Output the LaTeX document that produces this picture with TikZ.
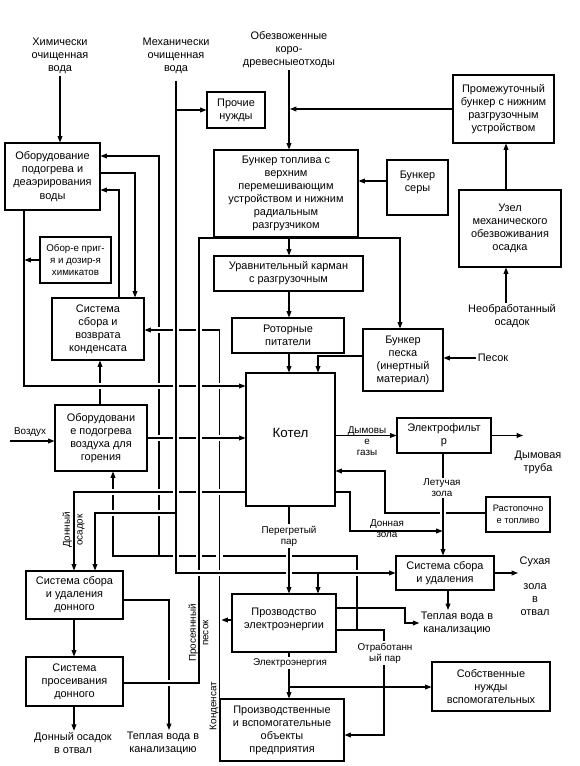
\documentclass[tikz,border=0pt]{standalone}
\usepackage{fontspec}
\setmainfont{Liberation Sans}
\usetikzlibrary{arrows.meta, backgrounds}

\begin{document}
\begin{tikzpicture}[x=0.75pt, y=-0.75pt, >={Triangle[length=4.8pt,width=3.6pt]}]
    \tikzset{blk/.style={draw, line width=0.8pt, fill=white, align=center, inner sep=1pt,
                         font=\fontsize{8.2}{9.8}\selectfont},
             lbl/.style={align=center, inner sep=1pt, font=\fontsize{8.2}{9.8}\selectfont},
             sml/.style={align=center, inner sep=1pt, font=\fontsize{7.4}{8.4}\selectfont},
             ln/.style={line width=0.8pt},
             arr/.style={ln, ->},
             over/.style={preaction={draw=white, -, line width=5pt, shorten <=2.5pt, shorten >=2.5pt}}}
    \useasboundingbox (0,0) rectangle (579,766);

    \node[blk, minimum width=71.25pt, minimum height=50.25pt] (water) at (52.5,176.5) {Оборудование\\подогрева и\\деаэрирования\\воды};
    \node[blk, minimum width=43.5pt, minimum height=27pt] (other) at (236,110) {Прочие\\нужды};
    \node[blk, minimum width=108pt, minimum height=65.25pt] (fuel) at (286,193.5) {Бункер топлива с\\верхним\\перемешивающим\\устройством и нижним\\радиальным\\разгрузчиком};
    \node[blk, minimum width=45.75pt, minimum height=41.25pt] (sulfur) at (417.5,187.5) {Бункер\\серы\\~};
    \node[blk, minimum width=75.75pt, minimum height=51pt] (inter) at (503.5,109) {Промежуточный\\бункер с нижним\\разгрузочным\\устройством};
    \node[blk, minimum width=76.5pt, minimum height=57.75pt] (dewater) at (510,228.5) {Узел\\механического\\обезвоживания\\осадка};
    \node[blk, minimum width=53.25pt, minimum height=34.5pt, font=\fontsize{7.3}{9.2}\selectfont] (chem) at (75.5,260) {Обор-е приг-\\я и дозир-я\\химикатов};
    \node[blk, minimum width=69pt, minimum height=46.5pt] (cond) at (98,329) {Система\\сбора и\\возврата\\конденсата};
    \node[blk, minimum width=111.75pt, minimum height=26.25pt] (pocket) at (288.5,273.5) {Уравнительный карман\\с разгрузочным};
    \node[blk, minimum width=84pt, minimum height=26.25pt] (rotor) at (288,335.5) {Роторные\\питатели};
    \node[blk, minimum width=60pt, minimum height=46.5pt] (sand) at (403,360) {Бункер\\песка\\(инертный\\материал)};
    \node[blk, minimum width=66.75pt, minimum height=99.75pt, font=\fontsize{10}{12}\selectfont] (boiler) at (290.5,439.5) {Котел\\[-2pt]~};
    \node[blk, minimum width=69pt, minimum height=49.5pt] (air) at (101,438) {Оборудовани\\е подогрева\\воздуха для\\горения};
    \node[blk, minimum width=70.5pt, minimum height=26.25pt] (esp) at (444,435.5) {Электрофильт\\р};
    \node[blk, minimum width=48pt, minimum height=26.25pt, font=\fontsize{7}{8.6}\selectfont] (ignition) at (518,514.5) {Растопочно\\е топливо};
    \node[blk, minimum width=73.5pt, minimum height=25.5pt] (ash) at (445,573) {Система сбора\\и удаления};
    \node[blk, minimum width=72.75pt, minimum height=36pt] (bottom) at (74.5,595) {Система сбора\\и удаления\\донного};
    \node[blk, minimum width=72.75pt, minimum height=36.75pt] (sieve) at (74.5,681.5) {Система\\просеивания\\донного};
    \node[blk, minimum width=78pt, minimum height=43.5pt] (power) at (284,623) {Прозводство\\электроэнергии\\[-2.3pt]~};
    \node[blk, minimum width=93pt, minimum height=46.5pt] (plant) at (282,730) {Производственные\\и вспомогательные\\объекты\\предприятия};
    \node[blk, minimum width=88.5pt, minimum height=36.75pt] (ownneeds) at (491,686.5) {Собственные\\нужды\\вспомогательных};

    \node[lbl] (chemw) at (60,56) {Химически\\очищенная\\вода};
    \node[lbl] (mechw) at (176,56) {Механически\\очищенная\\вода};
    \node[lbl] (wood) at (289,50) {Обезвоженные\\коро-\\древесныеотходы};
    \node[lbl] (sludge) at (512,316) {Необработанный\\осадок};
    \node[lbl] (sandin) at (493,358) {Песок};
    \node[sml] (airin) at (30,432) {Воздух};
    \node[sml] (fluegas) at (367,441) {Дымовы\\е\\газы};
    \node[lbl] (stack) at (538,462) {Дымовая\\труба};
    \node[sml, fill=white] (flyash) at (442,488) {Летучая\\зола};
    \node[sml] (botash) at (387,529) {Донная\\зола};
    \node[sml, fill=white] (steam) at (289,536) {Перегретый\\пар};
    \node[lbl, anchor=north] (dryash) at (535,555) {Сухая\\[9pt]зола\\в\\отвал};
    \node[lbl] (warm2) at (457,623) {Теплая вода в\\канализацию};
    \node[sml, fill=white] (spent) at (385,653) {Отработанн\\ый пар};
    \node[sml, fill=white] (elec) at (290,663) {Электроэнергия};
    \node[lbl] (botout) at (73,743) {Донный осадок\\в отвал};
    \node[lbl] (warm1) at (163,743) {Теплая вода в\\канализацию};
    \node[sml, rotate=90, font=\fontsize{7.4}{9.5}\selectfont] (botsed) at (73.5,530) {Донный\\осадок};
    \node[sml, rotate=90, font=\fontsize{7.4}{9.5}\selectfont] (sifted) at (198.5,633) {Просеянный\\песок};
    \node[sml, rotate=90] (condlbl) at (214,706) {Конденсат};

    \coordinate (airsrc) at (10,441);
    \coordinate (stackin) at (523,435.5);
    \coordinate (dryin) at (518,573);
    \coordinate (ashjoin) at (442.6,531);
    \coordinate (elecsplit) at (289,687);
    \coordinate (woodjoin) at (290,109);
    \coordinate (condjoin) at (221.5,620);
    \coordinate (feedjoin) at (24.5,260);

    \begin{scope}[on background layer]
      % steam
      \draw[arr] (power.east |- 0,630) -| (357,556) -| (air.south -| 113,0);
      \draw[arr] (159,556) |- (water.east |- 0,156);
      \draw[arr] (357,630) -- (384,630) |- (plant.east |- 0,735);
      \draw[arr] (bottom.east |- 0,600) -| (warm1.north -| 169,0);
      \draw[arr] (air.north -| 100,0) -- (cond.south -| 100,0);
      % condensate
      \draw[arr, over] (plant.west |- 0,733) |- (cond.east |- 0,330);
      \draw[arr] (power.west |- 0,620) -- (condjoin);
      % into the boiler
      \draw[arr, over] (water.south -| 24,0) |- (boiler.west |- 0,386);
      \draw[arr] (chem.west) -- (feedjoin);
      \draw[arr, over] (air.east) -- (boiler.west |- air.east);
      \draw[arr, over] (boiler.west |- 0,492) -| (bottom.north -| 74,0);
      \draw[arr] (ignition.west |- 0,513) -| (385,471) -- (boiler.east |- 0,471);
      % sand and water
      \draw[arr, over] (sieve.east |- 0,683) -| (199,238) -| (sand.north -| 400,0);
      \draw[arr, over] ([yshift=-4pt]mechw.south) |- (ash.west);
      \draw[arr] (176,110) -- (other.west);
      \draw[arr] (318,573) -- (power.north -| 318,0);
      \draw[arr, over] (176,513) -| (bottom.north -| 95,0);
      % ash
      \draw[arr, over] (esp.south -| 443,0) -- (ash.north -| 443,0);
      \draw[arr] (boiler.east |- 0,492) -| (350,531) -- (ashjoin);
      \draw[arr, over] (boiler.south -| 289,0) -- (power.north -| 289,0);
      % fuel
      \draw[arr] (wood.south -| 289,0) -- (fuel.north -| 289,0);
      \draw[arr] (inter.west) -- (woodjoin);
      \draw[arr] (sulfur.west |- 0,181) -- (fuel.east |- 0,181);
      \foreach \a/\b in {fuel/pocket, pocket/rotor, rotor/boiler}
        \draw[arr] (\a.south -| 289,0) -- (\b.north -| 289,0);
      \draw[arr] (sand.west |- 0,356) -| (boiler.north -| 318,0);
      \draw[arr] (sandin.west) -- (sand.east |- sandin.west);
      \draw[arr] (dewater.north -| 506,0) -- (inter.south -| 506,0);
      \draw[arr] (sludge.north -| 506,0) -- (dewater.south -| 506,0);
      % gases, products
      \draw[arr] (boiler.east |- esp.west) -- (esp.west);
      \draw[arr] (esp.east) -- (stackin);
      \draw[arr] (ash.east) -- (dryin);
      \draw[arr] (ash.south -| 448,0) -- (warm2.north -| 448,0);
      \draw[arr] (power.east |- 0,608) -| (405,623) -- (warm2.west);
      \draw[arr] (power.south -| 289,0) -- (plant.north -| 289,0);
      \draw[arr] (elecsplit) -- (ownneeds.west |- elecsplit);
      % water side
      \draw[arr] (chemw.south) -- (water.north -| chemw.south);
      \draw[arr] (cond.north -| 119,0) |- (water.east |- 0,190);
      \draw[arr] (water.east |- 0,173) -| (cond.north -| 135,0);
      \draw[arr] (airsrc) -- (air.west |- airsrc);
      \draw[arr] (bottom.south -| 74,0) -- (sieve.north -| 74,0);
      \draw[arr] (sieve.south -| 74,0) -- (botout.north -| 74,0);
    \end{scope}
  \end{tikzpicture}
\end{document}
